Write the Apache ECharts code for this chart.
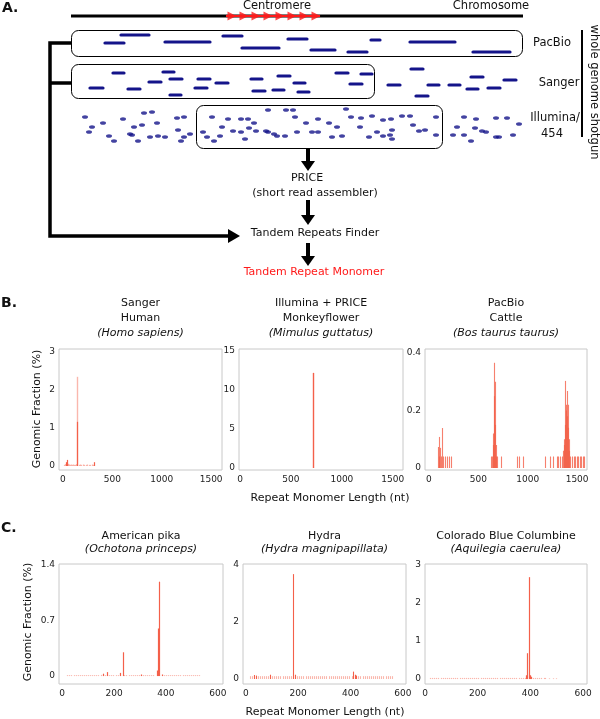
<!DOCTYPE html>
<html><head><meta charset="utf-8">
<script src="https://cdn.jsdelivr.net/npm/echarts@6/dist/echarts.min.js"></script>
<style>html,body{margin:0;padding:0;background:#fff}#c{width:600px;height:719px}</style>
</head><body><div id="c"></div>
<script>
// ---------- Panel A: schematic reads (start, end, row) in diagram units ----------
const pacbioReads = [[121,149,35],[105,124,43],[165,210,42],[223,242,36],[242,279,48],[288,307,39],[311,335,50],[348,367,52],[371,380,40],[410,455,42],[473,510,52]];
const sangerReads = [[90,103,88],[113,124,73],[128,140,89],[149,161,82],[163,174,72],[170,181,95],[170,182,79],[195,207,88],[198,210,79],[216,228,83],[251,262,79],[253,265,91],[273,284,90],[278,290,76],[294,305,83],[298,309,92],[336,348,73],[350,362,84],[361,372,74],[388,400,85],[411,423,69],[416,428,96],[428,439,85],[449,460,85],[467,478,89],[471,483,77],[488,500,88],[504,516,80]];
const illuminaReads = [[85,117],[103,123],[92,127],[123,119],[134,127],[132,135],[144,113],[152,112],[142,125],[157,123],[165,137],[177,118],[178,130],[184,117],[184,137],[203,132],[212,117],[222,127],[228,119],[241,119],[248,119],[254,123],[268,110],[286,110],[293,110],[256,131],[268,132],[277,136],[285,136],[297,132],[306,123],[318,119],[318,132],[329,123],[337,127],[346,109],[351,117],[360,127],[361,118],[372,116],[377,132],[391,119],[392,130],[402,116],[410,116],[413,125],[425,130],[436,117],[436,135],[464,117],[476,119],[457,127],[475,128],[486,132],[496,118],[507,118],[519,124],[464,135],[496,137],[513,135],[207,137],[220,136],[233,131],[241,132],[249,128],[295,117],[383,120],[390,135],[89,132],[109,136],[114,141],[130,134],[138,141],[150,137],[158,136],[181,141],[190,134],[214,141],[245,139],[266,131],[274,134],[312,132],[332,137],[342,136],[369,137],[383,136],[392,139],[419,131],[453,135],[471,141],[482,131],[499,137]];
const centromereArrowX = [232,244,256,268,280,292,304,316];

// ---------- Panel B / C: (monomer length nt, genomic fraction %) ----------
const humanSanger = [[15,0.03],[25,0.05],[32,0.1],[37,0.16],[42,0.08],[50,0.05],[60,0.04],[70,0.03],[80,0.04],[90,0.03],[100,0.04],[110,0.03],[120,0.03],[130,0.05],[146,1.16],[160,0.03],[170,0.04],[185,0.03],[200,0.04],[215,0.03],[230,0.03],[245,0.04],[260,0.03],[275,0.03],[290,0.04],[305,0.03],[317,0.1]];
const humanSangerPale = [[144,2.34]];
const monkeyflowerPrice = [[713,12.2]];
const cattlePacbio = [[94,0.073],[100,0.04],[105,0.108],[111,0.07],[120,0.04],[135,0.139],[145,0.04],[162,0.04],[186,0.04],[206,0.04],[223,0.04],[625,0.04],[642,0.04],[648,0.08],[652,0.12],[657,0.25],[662,0.366],[666,0.3],[670,0.15],[675,0.08],[680,0.04],[692,0.04],[726,0.04],[895,0.04],[915,0.04],[956,0.04],[1175,0.04],[1226,0.04],[1260,0.04],[1294,0.04],[1310,0.04],[1327,0.04],[1345,0.04],[1358,0.06],[1365,0.1],[1370,0.08],[1375,0.15],[1380,0.303],[1385,0.22],[1390,0.2],[1395,0.18],[1400,0.268],[1405,0.22],[1410,0.14],[1415,0.1],[1420,0.06],[1430,0.04],[1450,0.04],[1465,0.04],[1480,0.04],[1495,0.04],[1510,0.04],[1525,0.04],[1540,0.04],[1555,0.04],[1570,0.04]];
const pika = [[20,0.012],[28,0.012],[36,0.012],[44,0.012],[52,0.012],[60,0.012],[68,0.012],[76,0.012],[84,0.012],[92,0.012],[100,0.012],[108,0.012],[116,0.012],[124,0.012],[132,0.012],[140,0.012],[148,0.015],[156,0.03],[164,0.012],[174,0.05],[182,0.012],[190,0.012],[198,0.012],[206,0.012],[214,0.012],[223,0.04],[233,0.3],[240,0.012],[248,0.012],[256,0.012],[264,0.012],[272,0.012],[280,0.012],[288,0.012],[296,0.012],[304,0.02],[312,0.012],[320,0.012],[328,0.012],[336,0.012],[344,0.012],[352,0.012],[364,0.07],[369,0.6],[373,1.19],[383,0.02],[392,0.012],[400,0.012],[408,0.012],[416,0.012],[424,0.012],[432,0.012],[440,0.012],[448,0.012],[456,0.012],[464,0.012],[472,0.012],[480,0.012],[488,0.012],[496,0.012],[504,0.012],[512,0.012],[520,0.012],[528,0.012]];
const hydra = [[15,0.1],[23,0.1],[30,0.14],[38,0.12],[46,0.1],[54,0.1],[62,0.1],[70,0.1],[78,0.1],[86,0.1],[92,0.15],[100,0.1],[108,0.1],[116,0.1],[124,0.1],[132,0.1],[140,0.1],[148,0.1],[156,0.1],[164,0.1],[172,0.1],[181,3.68],[188,0.15],[196,0.1],[204,0.1],[212,0.1],[220,0.1],[228,0.1],[236,0.1],[244,0.1],[252,0.1],[260,0.1],[268,0.1],[276,0.1],[284,0.1],[292,0.1],[300,0.1],[308,0.1],[316,0.1],[324,0.1],[332,0.1],[340,0.1],[348,0.1],[356,0.1],[364,0.1],[372,0.1],[380,0.1],[388,0.1],[396,0.1],[404,0.1],[410,0.26],[416,0.15],[422,0.12],[430,0.1],[438,0.1],[446,0.1],[454,0.1],[462,0.1],[470,0.1],[478,0.1],[486,0.1],[494,0.1],[502,0.1],[510,0.1],[518,0.1],[526,0.1],[534,0.1],[542,0.1],[550,0.1],[557,0.1]];
const columbine = [[19,0.03],[27,0.03],[35,0.03],[43,0.03],[51,0.03],[59,0.03],[67,0.03],[75,0.03],[83,0.03],[91,0.03],[99,0.03],[107,0.03],[115,0.03],[123,0.03],[131,0.03],[139,0.03],[147,0.03],[155,0.03],[163,0.03],[171,0.03],[179,0.03],[187,0.03],[195,0.03],[203,0.03],[211,0.03],[219,0.03],[227,0.03],[235,0.03],[243,0.03],[251,0.03],[259,0.03],[267,0.03],[275,0.03],[283,0.03],[291,0.03],[299,0.03],[307,0.03],[315,0.03],[323,0.03],[331,0.03],[339,0.03],[347,0.03],[355,0.03],[363,0.03],[371,0.03],[378,0.03],[384,0.1],[386,0.68],[395,2.68],[398,0.1],[402,0.06],[410,0.03],[418,0.03],[426,0.03],[434,0.03],[442,0.03],[450,0.03],[455,0.03],[470,0.02],[485,0.02],[499,0.02]];

const xTicksB = [0,500,1000,1500];
const xTicksC = [0,200,400,600];
const yTicks = [[0,1,2,3],[0,5,10,15],[0,0.2,0.4],[0,0.7,1.4],[0,2,4],[0,1,2,3]];

const titlesB = [['Sanger','Human','(Homo sapiens)'],['Illumina + PRICE','Monkeyflower','(Mimulus guttatus)'],['PacBio','Cattle','(Bos taurus taurus)']];
const titlesC = [['American pika','(Ochotona princeps)'],['Hydra','(Hydra magnipapillata)'],['Colorado Blue Columbine','(Aquilegia caerulea)']];

// ---------- layout ----------
const FONT = '"DejaVu Sans", sans-serif';
const NAVY = '#14148a';
const SPIKE = '#f4604a';
const plots = [
  {left:59, top:349, width:163, height:121, x:[-40,1610], y:[-0.105,3.07], xt:xTicksB},
  {left:239,top:349, width:164, height:121, x:[-10,1600], y:[-0.256,15.26], xt:xTicksB},
  {left:425,top:349, width:162, height:121, x:[-40,1600], y:[-0.007,0.414], xt:xTicksB},
  {left:59, top:564, width:164, height:120, x:[-12,620], y:[-0.1,1.413], xt:xTicksC},
  {left:243,top:564, width:163, height:120, x:[-11,612], y:[-0.175,4.035], xt:xTicksC},
  {left:425,top:564, width:162, height:120, x:[0,615], y:[-0.13,3.026], xt:xTicksC}
];
const plain = v => String(v);

const grid = [{left:0, top:0, width:600, height:719, show:false}];
const xAxis = [{gridIndex:0, type:'value', min:0, max:600, show:false}];
const yAxis = [{gridIndex:0, type:'value', min:0, max:719, inverse:true, show:false}];
plots.forEach((p,i)=>{
  grid.push({left:p.left, top:p.top, width:p.width, height:p.height, show:true, borderColor:'#c8c8c8', borderWidth:1, outerBoundsMode:'none'});
  xAxis.push({gridIndex:i+1, type:'value', min:p.x[0], max:p.x[1],
    axisLine:{show:false}, axisTick:{show:false}, splitLine:{show:false},
    axisLabel:{customValues:p.xt, formatter:plain, fontSize:9, color:'#222', margin:5, fontFamily:FONT}});
  yAxis.push({gridIndex:i+1, type:'value', min:p.y[0], max:p.y[1],
    axisLine:{show:false}, axisTick:{show:false}, splitLine:{show:false},
    axisLabel:{customValues:yTicks[i], formatter:plain, fontSize:9, color:'#222', margin:4, fontFamily:FONT}});
});

// spikes: near-zero background counts (< faintBelow) are drawn paler
function spikeSeries(idx, data, color, width, faintBelow){
  return {type:'custom', xAxisIndex:idx, yAxisIndex:idx, clip:true, data:data,
    renderItem:(params, api)=>{
      const v = api.value(1);
      const p0 = api.coord([api.value(0), 0]);
      const p1 = api.coord([api.value(0), v]);
      const px = Math.round(p0[0]) + 0.5;
      const faint = faintBelow && v <= faintBelow;
      return {type:'line', shape:{x1:px, y1:p0[1], x2:px, y2:p1[1]},
        style:{stroke:color, opacity:faint?0.45:1, lineWidth:width||1.4}};
    }};
}
function readSeries(data){
  return {type:'custom', xAxisIndex:0, yAxisIndex:0, data:data,
    renderItem:(params, api)=>{
      const a = api.coord([api.value(0), api.value(2)]);
      const b = api.coord([api.value(1), api.value(2)]);
      return {type:'line', shape:{x1:a[0], y1:a[1], x2:b[0], y2:b[1]}, style:{stroke:NAVY, lineWidth:3.2, lineCap:'round'}};
    }};
}

const CHROM_Y = 16;
const series = [
  readSeries(pacbioReads),
  readSeries(sangerReads),
  {type:'scatter', xAxisIndex:0, yAxisIndex:0, data:illuminaReads, symbol:'circle', symbolSize:[6,3.6], itemStyle:{color:NAVY}, silent:true},
  {type:'scatter', xAxisIndex:0, yAxisIndex:0, data:centromereArrowX.map(x=>[x,CHROM_Y]), symbol:'triangle', symbolRotate:-90, symbolSize:[9,9], itemStyle:{color:'#ff1a1a'}, z:5, silent:true},
  spikeSeries(1, humanSangerPale, 'rgba(244,96,74,0.45)'),
  spikeSeries(1, humanSanger, SPIKE, 1.2, 0.05),
  spikeSeries(2, monkeyflowerPrice, SPIKE),
  spikeSeries(3, cattlePacbio, 'rgba(244,96,74,0.8)', 1.1),
  spikeSeries(4, pika, SPIKE, 1.2, 0.015),
  spikeSeries(5, hydra, SPIKE, 1.1, 0.1),
  spikeSeries(6, columbine, SPIKE, 1.2, 0.03)
];

// ---------- graphic elements ----------
const G = [];
function txt(t, x, y, o){
  o = o || {};
  G.push({type:'text', x:x, y:y, rotation:o.rot||0, silent:true, z:10,
    style:{text:t, fill:o.color||'#111', fontSize:o.size||11, fontFamily:FONT,
      fontWeight:o.bold?'bold':'normal', fontStyle:o.italic?'italic':'normal',
      align:o.align||'center', verticalAlign:'middle', textAlign:o.align||'center', textVerticalAlign:'middle'}});
}
function line(points, w, color){
  G.push({type:'polyline', silent:true, z:3, shape:{points:points}, style:{stroke:color||'#000', lineWidth:w, fill:null, lineJoin:'miter'}});
}
function poly(points, color){
  G.push({type:'polygon', silent:true, z:3, shape:{points:points}, style:{fill:color||'#000', stroke:null}});
}
function box(x,y,w,h){
  G.push({type:'rect', silent:true, z:1, shape:{x:x+0.5,y:y+0.5,width:w,height:h,r:7}, style:{stroke:'#000', lineWidth:1, fill:null}});
}

// Panel A
txt('A.', 2, 8, {bold:true, size:14, align:'left'});
line([[71,CHROM_Y],[523,CHROM_Y]], 3);
line([[226,CHROM_Y],[320,CHROM_Y]], 2, '#ff1a1a');
txt('Centromere', 277, 6, {size:11.5});
txt('Chromosome', 491, 6, {size:11.5});
box(71,30,451,26);
box(71,64,303,34);
box(196,105,246,43);
txt('PacBio', 552, 43, {size:11.5});
txt('Sanger', 559, 83, {size:11.5});
txt('Illumina/', 555, 118, {size:11.5});
txt('454', 552, 134, {size:11.5});
line([[582,30],[582,137]], 2);
txt('whole genome shotgun', 594, 92, {size:11.5, rot:-Math.PI/2});
// left bracket
line([[71,43],[50,43],[50,236],[229,236]], 3.5);
line([[50,83],[71,83]], 3.5);
poly([[228,229],[240,236],[228,243]]);
// down arrows
function downArrow(x, y0, y1){ line([[x,y0],[x,y1-9]], 4); poly([[x-7,y1-10],[x+7,y1-10],[x,y1]]); }
downArrow(308, 148, 171);
downArrow(308, 200, 225);
downArrow(308, 243, 266);
txt('PRICE', 307, 178);
txt('(short read assembler)', 315, 193);
txt('Tandem Repeats Finder', 315, 233);
txt('Tandem Repeat Monomer', 314, 272, {color:'#ff1a1a'});

// Panel B / C labels
txt('B.', 1, 303, {bold:true, size:14, align:'left'});
txt('C.', 1, 528, {bold:true, size:14, align:'left'});
[0,1,2].forEach(i=>{
  const p = plots[i], cx = p.left + p.width/2;
  titlesB[i].forEach((t,k)=>txt(t, cx, 303 + k*15, {italic:k===2}));
  const q = plots[i+3], cx2 = q.left + q.width/2;
  titlesC[i].forEach((t,k)=>txt(t, cx2, 536 + k*13.5, {italic:k===1}));
});
txt('Genomic Fraction (%)', 37, 409, {rot:Math.PI/2});
txt('Genomic Fraction (%)', 28, 622, {rot:Math.PI/2});
txt('Repeat Monomer Length (nt)', 330, 498);
txt('Repeat Monomer Length (nt)', 325, 712);

const chart = echarts.init(document.getElementById('c'));
chart.setOption({animation:false, backgroundColor:'#fff', grid, xAxis, yAxis, series, graphic:{elements:G}});
</script></body></html>
